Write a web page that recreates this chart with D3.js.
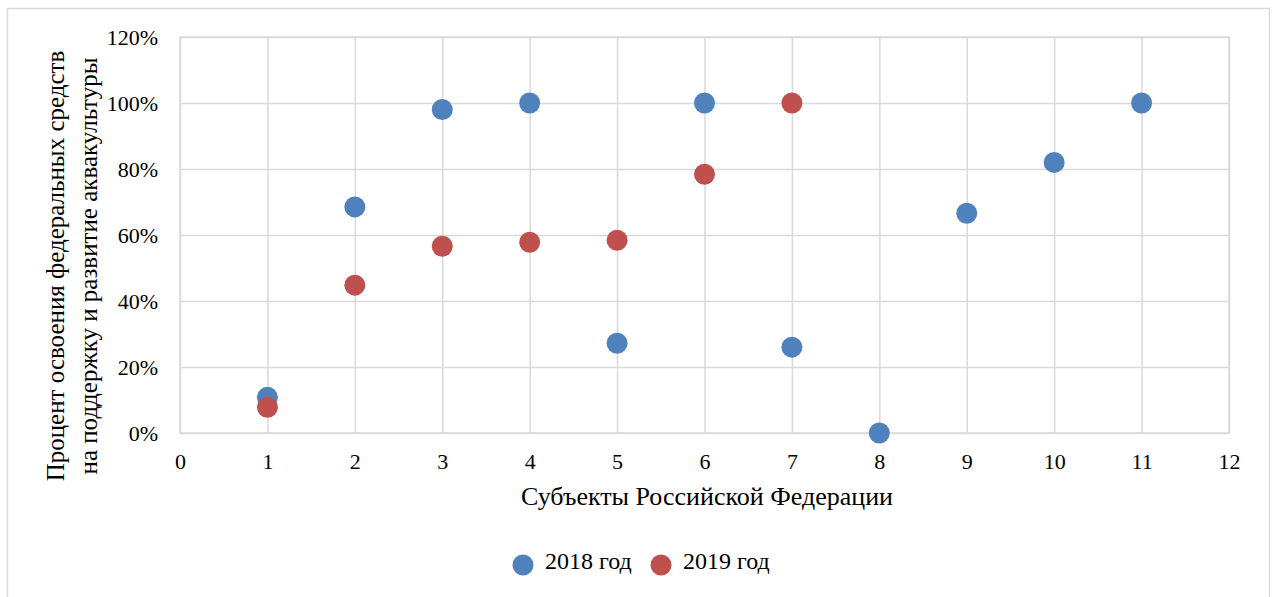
<!DOCTYPE html>
<html>
<head>
<meta charset="utf-8">
<script src="https://cdn.jsdelivr.net/npm/d3@7"></script>
<style>
  body { margin: 0; background: #fff; }
  svg text { font-family: "Liberation Serif", "Times New Roman", serif; fill: #000; }
</style>
</head>
<body>
<div id="chart"></div>
<script>
// subjects of the federation (x) and shares (%) per year
const subjects2018 = [1, 2, 3, 4, 5, 6, 7, 8, 9, 10, 11];
const values2018 = [10.8, 68.5, 98, 100, 27.2, 100, 26, 0, 66.6, 82, 100];
const subjects2019 = [1, 2, 3, 4, 5, 6, 7];
const values2019 = [7.8, 44.8, 56.6, 57.8, 58.4, 78.4, 100];
const xTicks = [0, 1, 2, 3, 4, 5, 6, 7, 8, 9, 10, 11, 12];
const yTicks = [0, 20, 40, 60, 80, 100, 120];
const seriesNames = ["2018 год", "2019 год"];
const colors = ["#4f81bd", "#c0504d"];

const W = 1273, H = 597;
const margin = {top: 37, right: 44, bottom: 164, left: 180};
const width = W - margin.left - margin.right,
      height = H - margin.top - margin.bottom;

const svg = d3.select("#chart").append("svg")
  .attr("width", W)
  .attr("height", H);

// outer frame
svg.append("rect")
  .attr("x", 7.5).attr("y", 8.5)
  .attr("width", 1262).attr("height", 600)
  .attr("fill", "none")
  .attr("stroke", "#d9d9d9")
  .attr("stroke-width", 1.5);

const g = svg.append("g")
  .attr("transform", `translate(${margin.left},${margin.top})`);

const x = d3.scaleLinear().domain([0, 12]).range([0, width]);
const y = d3.scaleLinear().domain([0, 120]).range([height, 0]);

// grid
g.append("g")
  .call(d3.axisBottom(x).tickValues(xTicks).tickSize(height).tickFormat(""))
  .call(s => s.select(".domain").remove())
  .selectAll("line").attr("stroke", "#d9d9d9").attr("stroke-width", 1.5);

g.append("g")
  .call(d3.axisLeft(y).tickValues(yTicks).tickSize(-width).tickFormat(""))
  .call(s => s.select(".domain").remove())
  .selectAll("line").attr("stroke", "#d9d9d9").attr("stroke-width", 1.5);

g.append("rect")
  .attr("width", width).attr("height", height)
  .attr("fill", "none")
  .attr("stroke", "#d9d9d9")
  .attr("stroke-width", 1.5);

// tick labels
const xAxis = g.append("g")
  .attr("transform", `translate(0,${height})`)
  .call(d3.axisBottom(x).tickValues(xTicks).tickSize(0).tickPadding(20));
xAxis.select(".domain").remove();
xAxis.selectAll("text").style("font-size", "22px").style("font-family", "Liberation Serif");

const yAxis = g.append("g")
  .call(d3.axisLeft(y).tickValues(yTicks).tickSize(0).tickPadding(22)
    .tickFormat(d => d + "%"));
yAxis.select(".domain").remove();
yAxis.selectAll("text").style("font-size", "22px").style("font-family", "Liberation Serif");

// axis titles
svg.append("text")
  .attr("x", 707).attr("y", 505)
  .attr("text-anchor", "middle")
  .style("font-size", "26px")
  .text("Субъекты Российской Федерации");

const yt = svg.append("text")
  .attr("transform", "translate(0,266) rotate(-90)")
  .attr("text-anchor", "middle")
  .style("font-size", "25px");
yt.append("tspan").attr("x", 0).attr("y", 64).text("Процент освоения федеральных средств");
yt.append("tspan").attr("x", 0).attr("y", 97).text("на поддержку и развитие аквакультуры");

// points
const series = [
  {xs: subjects2018, ys: values2018},
  {xs: subjects2019, ys: values2019}
];

series.forEach(function(s, i) {
  g.selectAll(".pt" + i)
    .data(s.xs.map((d, j) => ({x: d, y: s.ys[j]})))
    .enter().append("circle")
    .attr("class", "pt" + i)
    .attr("cx", d => x(d.x))
    .attr("cy", d => y(d.y))
    .attr("r", 10.5)
    .attr("fill", colors[i]);
});

// legend
const legend = svg.selectAll(".legend")
  .data(seriesNames)
  .enter().append("g")
  .attr("class", "legend")
  .attr("transform", (d, i) => `translate(${523 + i * 138},565)`);

legend.append("circle")
  .attr("r", 10.5)
  .attr("fill", (d, i) => colors[i]);

legend.append("text")
  .attr("x", 22)
  .attr("y", 4)
  .style("font-size", "24px")
  .text(d => d);
</script>
</body>
</html>
